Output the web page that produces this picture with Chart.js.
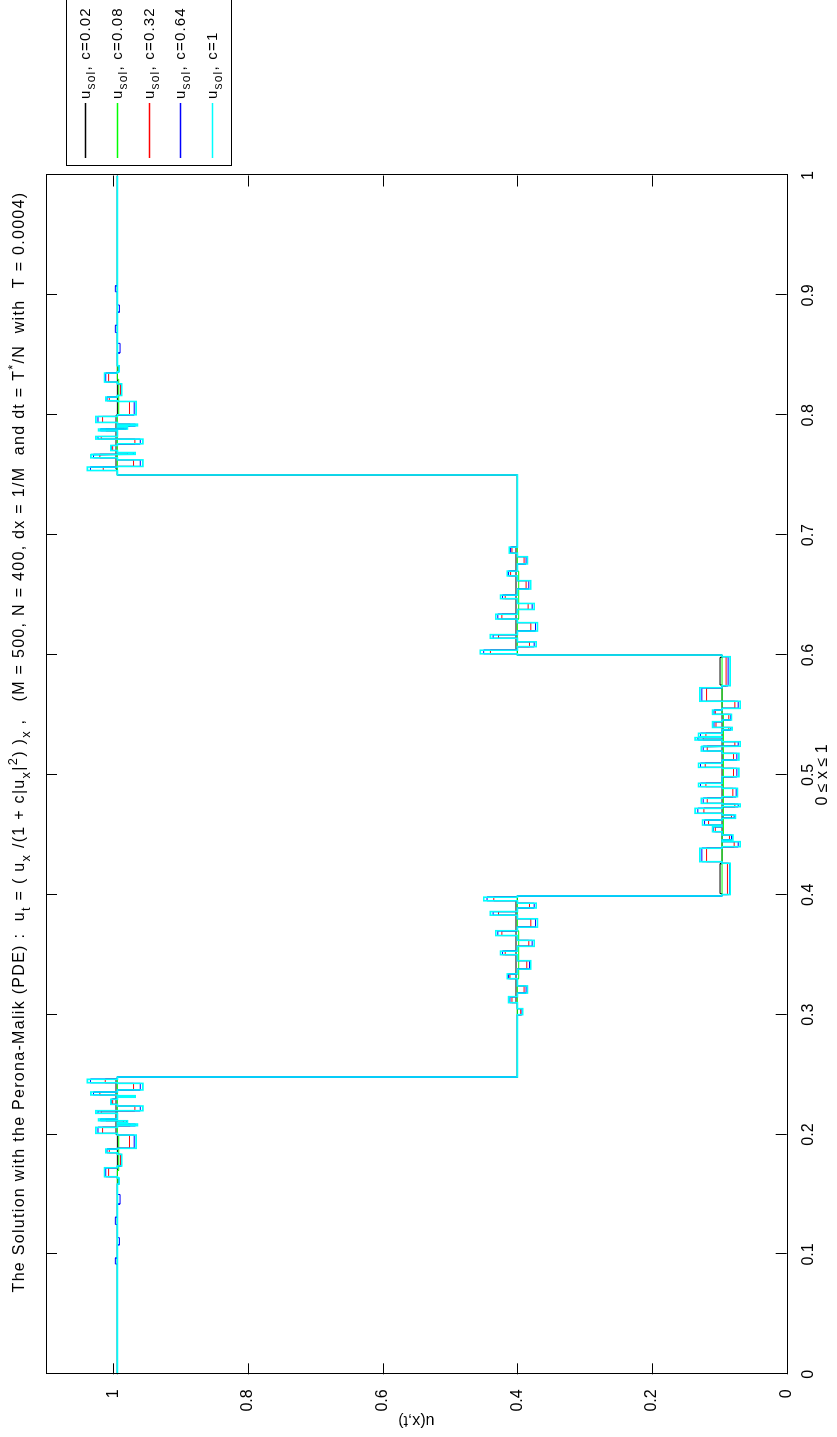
<!DOCTYPE html>
<html>
<head>
<meta charset="UTF-8">
<title>Perona-Malik solution</title>
<script src="https://cdn.jsdelivr.net/npm/chart.js@4/dist/chart.umd.min.js"></script>
<style>
  html, body { margin: 0; padding: 0; background: #fff; overflow: hidden; }
  /* the figure is landscape, the page shows it turned a quarter to the left */
  #wrap { position: absolute; left: 0; top: 0; width: 1437px; height: 837px;
          transform-origin: 0 0; transform: translate(0, 1437px) rotate(-90deg); background: #fff; }
</style>
</head>
<body>
<div id="wrap"><canvas id="chart" width="1437" height="837" style="width:1437px;height:837px"></canvas></div>
<script>
const FONT = '"Liberation Sans", Arial, Helvetica, sans-serif'

const cLabels = ['0.02', '0.08', '0.32', '0.64', '1']
const colors = ['#000000', '#00ff00', '#ff0000', '#0000ff', '#00ffff']
const widths = [1, 1, 1, 1, 1.6]

const xTicks = [0, 0.1, 0.2, 0.3, 0.4, 0.5, 0.6, 0.7, 0.8, 0.9, 1]
const xTickLabels = ['0', '0.1', '0.2', '0.3', '0.4', '0.5', '0.6', '0.7', '0.8', '0.9', '1']
const yTicks = [0, 0.2, 0.4, 0.6, 0.8, 1]
const yTickLabels = ['0', '0.2', '0.4', '0.6', '0.8', '1']

// piecewise constant levels of the solution
const stepX = [0, 0.248, 0.399, 0.6, 0.7502, 1]
const stepU = [0.994, 0.4, 0.096, 0.4, 0.994]

// oscillations left by the noise: [x from, x to, u]
const blackPulses = [
  [0.401, 0.426, 0.099], [0.575, 0.598, 0.099], [0.2, 0.246, 0.996], [0.755, 0.8, 0.996],
  [0.31, 0.395, 0.402], [0.605, 0.69, 0.402]
]
const greenPulses = [
  [0.17, 0.2, 0.992], [0.45, 0.55, 0.094], [0.8, 0.83, 0.992], [0.33, 0.37, 0.398], [0.63, 0.67, 0.398]
]
const redPulses = [
  [0.1587, 0.1637, 0.9925], [0.1648, 0.1723, 1.0070], [0.1738, 0.1835, 0.9895], [0.1848, 0.1879, 1.0060],
  [0.1885, 0.1996, 0.9760], [0.2010, 0.2060, 1.0160], [0.2074, 0.2088, 0.9750], [0.2099, 0.2115, 0.9850],
  [0.2115, 0.2130, 1.0110], [0.2177, 0.2199, 1.0180], [0.2199, 0.2238, 0.9680], [0.2252, 0.2294, 1.0010],
  [0.2311, 0.2324, 0.9790], [0.2330, 0.2355, 1.0200], [0.2372, 0.2427, 0.9700], [0.2432, 0.2461, 1.0120],
  [0.300, 0.305, 0.395], [0.310, 0.315, 0.408], [0.318, 0.324, 0.390], [0.330, 0.334, 0.411],
  [0.338, 0.345, 0.386], [0.350, 0.353, 0.418], [0.357, 0.362, 0.383], [0.366, 0.370, 0.423],
  [0.373, 0.380, 0.380], [0.383, 0.386, 0.428], [0.389, 0.393, 0.382], [0.395, 0.398, 0.435],
  [0.4002, 0.4263, 0.088], [0.4276, 0.4388, 0.119], [0.4401, 0.4443, 0.078], [0.4457, 0.4499, 0.085],
  [0.4526, 0.4568, 0.106], [0.4582, 0.4624, 0.116], [0.4638, 0.4666, 0.082], [0.4680, 0.4721, 0.123],
  [0.4735, 0.4757, 0.077], [0.4763, 0.4805, 0.118], [0.4818, 0.4888, 0.080], [0.4902, 0.4930, 0.120],
  [0.4985, 0.5055, 0.079], [0.5063, 0.5097, 0.121], [0.5124, 0.5180, 0.079], [0.5199, 0.5235, 0.118],
  [0.5241, 0.5277, 0.077], [0.5291, 0.5311, 0.124], [0.5319, 0.5347, 0.120], [0.5375, 0.5394, 0.086],
  [0.5397, 0.5444, 0.105], [0.5458, 0.5500, 0.086], [0.5508, 0.5541, 0.106], [0.5555, 0.5611, 0.077],
  [0.5616, 0.5727, 0.119], [0.5744, 0.5986, 0.090],
  [0.601, 0.604, 0.440], [0.607, 0.611, 0.382], [0.614, 0.617, 0.428], [0.620, 0.627, 0.380],
  [0.630, 0.634, 0.423], [0.638, 0.643, 0.384], [0.647, 0.650, 0.418], [0.655, 0.662, 0.387],
  [0.666, 0.670, 0.410], [0.676, 0.682, 0.390], [0.685, 0.690, 0.408],
  [0.7539, 0.7568, 1.0150], [0.7573, 0.7628, 0.9700], [0.7645, 0.7670, 1.0200], [0.7676, 0.7689, 0.9790],
  [0.7706, 0.7748, 1.0010], [0.7762, 0.7801, 0.9680], [0.7801, 0.7823, 1.0180], [0.7870, 0.7885, 1.0110],
  [0.7885, 0.7901, 0.9850], [0.7912, 0.7926, 0.9750], [0.7940, 0.7990, 1.0160], [0.8004, 0.8115, 0.9760],
  [0.8121, 0.8152, 1.0060], [0.8165, 0.8262, 0.9895], [0.8277, 0.8352, 1.0070], [0.8363, 0.8413, 0.9925]
]
const bluePulses = [
  [0.092, 0.097, 0.997], [0.108, 0.114, 0.991], [0.125, 0.131, 0.997], [0.142, 0.150, 0.990],
  [0.1587, 0.1637, 0.9917], [0.1648, 0.1723, 1.0113], [0.1738, 0.1835, 0.9880], [0.1848, 0.1879, 1.0094],
  [0.1885, 0.1996, 0.9690], [0.2010, 0.2060, 1.0228], [0.2074, 0.2088, 0.9672], [0.2099, 0.2115, 0.9805],
  [0.2115, 0.2130, 1.0192], [0.2177, 0.2199, 1.0228], [0.2199, 0.2238, 0.9600], [0.2252, 0.2294, 1.0027],
  [0.2311, 0.2324, 0.9702], [0.2330, 0.2355, 1.0295], [0.2372, 0.2427, 0.9600], [0.2432, 0.2461, 1.0340],
  [0.300, 0.305, 0.393], [0.310, 0.315, 0.411], [0.318, 0.324, 0.387], [0.330, 0.334, 0.413],
  [0.338, 0.345, 0.382], [0.350, 0.353, 0.422], [0.357, 0.362, 0.378], [0.366, 0.370, 0.429],
  [0.373, 0.380, 0.373], [0.383, 0.386, 0.436], [0.389, 0.393, 0.375], [0.395, 0.398, 0.445],
  [0.4002, 0.4263, 0.085], [0.4276, 0.4388, 0.126], [0.4401, 0.4443, 0.072], [0.4457, 0.4499, 0.082],
  [0.4526, 0.4568, 0.109], [0.4582, 0.4624, 0.122], [0.4638, 0.4666, 0.078], [0.4680, 0.4721, 0.132],
  [0.4735, 0.4757, 0.072], [0.4763, 0.4805, 0.124], [0.4818, 0.4888, 0.075], [0.4902, 0.4930, 0.128],
  [0.4985, 0.5055, 0.074], [0.5063, 0.5097, 0.128], [0.5124, 0.5180, 0.074], [0.5199, 0.5235, 0.124],
  [0.5241, 0.5277, 0.072], [0.5291, 0.5311, 0.132], [0.5319, 0.5347, 0.128], [0.5375, 0.5394, 0.083],
  [0.5397, 0.5444, 0.108], [0.5458, 0.5500, 0.083], [0.5508, 0.5541, 0.108], [0.5555, 0.5611, 0.072],
  [0.5616, 0.5727, 0.126], [0.5744, 0.5986, 0.087],
  [0.601, 0.604, 0.450], [0.607, 0.611, 0.375], [0.614, 0.617, 0.436], [0.620, 0.627, 0.373],
  [0.630, 0.634, 0.429], [0.638, 0.643, 0.378], [0.647, 0.650, 0.422], [0.655, 0.662, 0.383],
  [0.666, 0.670, 0.413], [0.676, 0.682, 0.387], [0.685, 0.690, 0.410],
  [0.7539, 0.7568, 1.0340], [0.7573, 0.7628, 0.9600], [0.7645, 0.7670, 1.0295], [0.7676, 0.7689, 0.9702],
  [0.7706, 0.7748, 1.0027], [0.7762, 0.7801, 0.9600], [0.7801, 0.7823, 1.0228], [0.7870, 0.7885, 1.0192],
  [0.7885, 0.7901, 0.9805], [0.7912, 0.7926, 0.9672], [0.7940, 0.7990, 1.0228], [0.8004, 0.8115, 0.9690],
  [0.8121, 0.8152, 1.0094], [0.8165, 0.8262, 0.9880], [0.8277, 0.8352, 1.0113], [0.8363, 0.8413, 0.9917],
  [0.852, 0.860, 0.990], [0.869, 0.875, 0.997], [0.886, 0.892, 0.991], [0.903, 0.908, 0.997]
]
const cyanPulses = [
  [0.1587, 0.1637, 0.9914], [0.1648, 0.1723, 1.0132], [0.1738, 0.1835, 0.9874], [0.1848, 0.1879, 1.0111],
  [0.1885, 0.1996, 0.9661], [0.2010, 0.2060, 1.0260], [0.2074, 0.2088, 0.9642], [0.2099, 0.2115, 0.9790],
  [0.2115, 0.2130, 1.0220], [0.2177, 0.2199, 1.0260], [0.2199, 0.2238, 0.9562], [0.2252, 0.2294, 1.0037],
  [0.2311, 0.2324, 0.9676], [0.2330, 0.2355, 1.0334], [0.2372, 0.2427, 0.9562], [0.2432, 0.2461, 1.0385],
  [0.300, 0.305, 0.392], [0.310, 0.315, 0.413], [0.318, 0.324, 0.385], [0.330, 0.334, 0.415],
  [0.338, 0.345, 0.380], [0.350, 0.353, 0.425], [0.357, 0.362, 0.375], [0.366, 0.370, 0.432],
  [0.373, 0.380, 0.370], [0.383, 0.386, 0.440], [0.389, 0.393, 0.372], [0.395, 0.398, 0.450],
  [0.4002, 0.4263, 0.084], [0.4276, 0.4388, 0.129], [0.4401, 0.4443, 0.069], [0.4457, 0.4499, 0.080],
  [0.4526, 0.4568, 0.110], [0.4582, 0.4624, 0.125], [0.4638, 0.4666, 0.076], [0.4680, 0.4721, 0.136],
  [0.4735, 0.4757, 0.069], [0.4763, 0.4805, 0.127], [0.4818, 0.4888, 0.073], [0.4902, 0.4930, 0.131],
  [0.4985, 0.5055, 0.071], [0.5063, 0.5097, 0.131], [0.5124, 0.5180, 0.071], [0.5199, 0.5235, 0.127],
  [0.5241, 0.5277, 0.069], [0.5291, 0.5311, 0.136], [0.5319, 0.5347, 0.131], [0.5375, 0.5394, 0.081],
  [0.5397, 0.5444, 0.110], [0.5458, 0.5500, 0.082], [0.5508, 0.5541, 0.110], [0.5555, 0.5611, 0.069],
  [0.5616, 0.5727, 0.129], [0.5744, 0.5986, 0.084],
  [0.601, 0.604, 0.455], [0.607, 0.611, 0.372], [0.614, 0.617, 0.440], [0.620, 0.627, 0.370],
  [0.630, 0.634, 0.432], [0.638, 0.643, 0.375], [0.647, 0.650, 0.425], [0.655, 0.662, 0.380],
  [0.666, 0.670, 0.415], [0.676, 0.682, 0.385], [0.685, 0.690, 0.412],
  [0.7539, 0.7568, 1.0385], [0.7573, 0.7628, 0.9562], [0.7645, 0.7670, 1.0334], [0.7676, 0.7689, 0.9676],
  [0.7706, 0.7748, 1.0037], [0.7762, 0.7801, 0.9562], [0.7801, 0.7823, 1.0260], [0.7870, 0.7885, 1.0220],
  [0.7885, 0.7901, 0.9790], [0.7912, 0.7926, 0.9642], [0.7940, 0.7990, 1.0260], [0.8004, 0.8115, 0.9661],
  [0.8121, 0.8152, 1.0111], [0.8165, 0.8262, 0.9874], [0.8277, 0.8352, 1.0132], [0.8363, 0.8413, 0.9914]
]
const allPulses = [blackPulses, greenPulses, redPulses, bluePulses, cyanPulses]

const titleText = 'The Solution with the Perona-Malik (PDE) :  u_{t} = ( u_{x} /(1 + c|u_{x}|^{2}) )_{x} ,   (M = 500, N = 400, dx = 1/M  and dt = T^{*}/N  with  T = 0.0004)'

// turn the levels and pulses into a polyline
function buildLine(pulses) {
  let pts = []
  for (let r = 0; r < stepU.length; r++) {
    let a = stepX[r], b = stepX[r + 1], base = stepU[r]
    pts.push({x: a, y: base})
    pulses.filter(p => p[0] >= a && p[0] < b).sort((p, q) => p[0] - q[0]).forEach(p => {
      pts.push({x: p[0], y: base}, {x: p[0], y: p[2]}, {x: p[1], y: p[2]}, {x: p[1], y: base})
    })
    pts.push({x: b, y: base})
  }
  return pts
}

// tiny parser for _{..} and ^{..}
function parseRich(s) {
  let segs = [], re = /([_^])\{([^}]*)\}/g, last = 0, m
  while ((m = re.exec(s)) !== null) {
    if (m.index > last) segs.push({t: s.slice(last, m.index), k: ''})
    segs.push({t: m[2], k: m[1] === '_' ? 'sub' : 'sup'})
    last = re.lastIndex
  }
  if (last < s.length) segs.push({t: s.slice(last), k: ''})
  return segs
}

function drawRich(ctx, text, x, y, size, align, spacing) {
  let segs = parseRich(text)
  ctx.letterSpacing = spacing + 'px'
  let w = segs.map(s => {
    ctx.font = (s.k ? size * 0.8 : size) + 'px ' + FONT
    return ctx.measureText(s.t).width
  })
  let total = w.reduce((a, b) => a + b, 0)
  let cx = align === 'center' ? x - total / 2 : x
  ctx.textAlign = 'left'
  ctx.textBaseline = 'middle'
  segs.forEach((s, i) => {
    ctx.font = (s.k ? size * 0.8 : size) + 'px ' + FONT
    let dy = s.k === 'sub' ? size * 0.38 : s.k === 'sup' ? -size * 0.42 : 0
    ctx.fillText(s.t, cx, y + dy)
    cx += w[i]
  })
  ctx.letterSpacing = '0px'
}

const matlabLook = {
  id: 'matlabLook',
  afterDatasetsDraw(chart) {
    const {ctx, chartArea: a, scales} = chart
    ctx.save()
    ctx.strokeStyle = '#000'
    ctx.lineWidth = 1
    ctx.strokeRect(Math.round(a.left) + 0.5, Math.round(a.top) + 0.5, Math.round(a.right - a.left), Math.round(a.bottom - a.top))
    ctx.beginPath()
    xTicks.forEach(v => {
      let px = Math.round(scales.x.getPixelForValue(v)) + 0.5
      ctx.moveTo(px, a.bottom); ctx.lineTo(px, a.bottom - 11)
      ctx.moveTo(px, a.top); ctx.lineTo(px, a.top + 11)
    })
    yTicks.forEach(v => {
      let py = Math.round(scales.y.getPixelForValue(v)) + 0.5
      ctx.moveTo(a.left, py); ctx.lineTo(a.left + 11, py)
      ctx.moveTo(a.right, py); ctx.lineTo(a.right - 11, py)
    })
    ctx.stroke()
    ctx.restore()
  },
  afterDraw(chart) {
    const ctx = chart.ctx
    ctx.save()
    ctx.fillStyle = '#000'
    drawRich(ctx, titleText, 695, 20, 16, 'center', 1.3)

    // legend box
    ctx.fillStyle = '#fff'
    ctx.fillRect(1271, 66, 180, 165)
    ctx.strokeStyle = '#000'
    ctx.lineWidth = 1
    ctx.strokeRect(1271.5, 66.5, 180, 165)
    cLabels.forEach((c, i) => {
      let y = Math.round(85 + i * 31.75) + 0.5
      ctx.strokeStyle = colors[i]
      ctx.lineWidth = 1.3
      ctx.beginPath()
      ctx.moveTo(1279, y); ctx.lineTo(1334, y)
      ctx.stroke()
      ctx.fillStyle = '#000'
      drawRich(ctx, 'u_{sol}, c=' + c, 1338, y, 15, 'left', 1.2)
    })
    ctx.restore()
  }
}

const datasets = allPulses.map((p, i) => ({
  label: 'u_sol, c=' + cLabels[i],
  data: buildLine(p),
  borderColor: colors[i],
  backgroundColor: colors[i],
  borderWidth: widths[i],
  pointRadius: 0,
  showLine: true,
  fill: false,
  tension: 0,
  order: allPulses.length - 1 - i
}))

let ctx = document.getElementById('chart').getContext('2d')
let chart = new Chart(ctx, {
  type: 'scatter',
  data: { datasets: datasets },
  options: {
    responsive: false,
    animation: false,
    events: [],
    layout: { padding: { top: 46, right: 175.5, bottom: 0, left: 0 } },
    plugins: { legend: { display: false }, title: { display: false }, tooltip: { enabled: false } },
    scales: {
      x: {
        type: 'linear', min: 0, max: 1, position: 'bottom',
        grid: { display: false }, border: { display: false },
        afterBuildTicks: s => { s.ticks = xTicks.map(v => ({ value: v })) },
        afterFit: s => { s.height = 50.3 },
        ticks: { color: '#000', font: { family: FONT, size: 16 }, padding: 4, maxRotation: 0, minRotation: 0, autoSkip: false,
                 callback: (v, i) => xTickLabels[i] },
        title: { display: true, text: '0 \u2264 x \u2264 1', color: '#000', font: { family: FONT, size: 16 }, padding: { top: 0, bottom: 5 } }
      },
      y: {
        type: 'linear', min: 0, max: 1.1, position: 'left',
        grid: { display: false }, border: { display: false },
        afterBuildTicks: s => { s.ticks = yTicks.map(v => ({ value: v })) },
        afterFit: s => { s.width = 62.7 },
        ticks: { color: '#000', font: { family: FONT, size: 16 }, padding: 7, autoSkip: false,
                 callback: (v, i) => yTickLabels[i] },
        title: { display: true, text: 'u(x,t)', color: '#000', font: { family: FONT, size: 16 }, padding: { top: 7, bottom: 0 } }
      }
    }
  },
  plugins: [matlabLook]
})
</script>
</body>
</html>
